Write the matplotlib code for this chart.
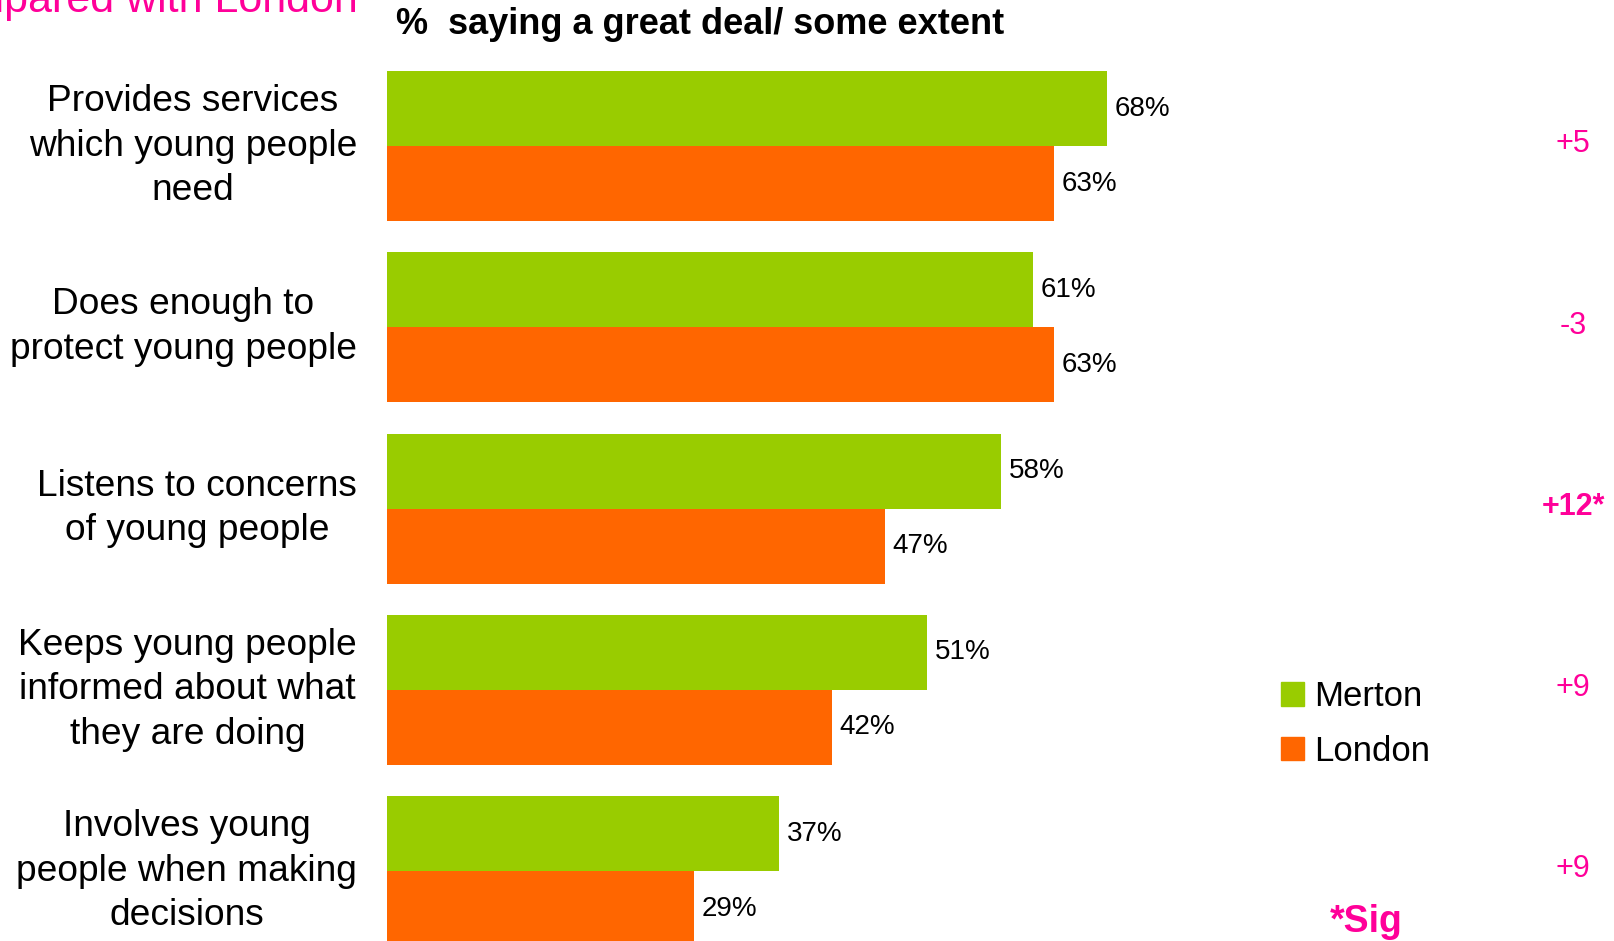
import numpy as np
import matplotlib.pyplot as plt
from matplotlib.transforms import blended_transform_factory
from matplotlib.patches import Patch

plt.rcParams['font.family'] = ['Liberation Sans', 'DejaVu Sans']

categories = ['Provides services\nwhich young people\nneed',
              'Does enough to\nprotect young people',
              'Listens to concerns\nof young people',
              'Keeps young people\ninformed about what\nthey are doing',
              'Involves young\npeople when making\ndecisions']
merton = [68, 61, 58, 51, 37]
london = [63, 63, 47, 42, 29]
diffs = ['+5', '-3', '+12*', '+9', '+9']
diff_bold = [False, False, True, False, False]

green = '#99CC00'
orange = '#FF6600'
pink = '#FF0099'

W, H = 1615, 941
fig = plt.figure(figsize=(W / 100, H / 100), dpi=100)
ax = fig.add_axes([387 / W, 0, 1059 / W, 1])

y = np.arange(len(categories))
h = 0.414
ax.barh(y - h / 2, merton, height=h, color=green, label='Merton')
ax.barh(y + h / 2, london, height=h, color=orange, label='London')

for yi, v in zip(y - h / 2, merton):
    ax.text(v + 0.75, yi, f'{v}%', va='center', ha='left', fontsize=20)
for yi, v in zip(y + h / 2, london):
    ax.text(v + 0.75, yi, f'{v}%', va='center', ha='left', fontsize=20)

ax.set_xlim(0, 100)
ax.set_ylim(4.386, -0.806)
ax.axis('off')

tr = blended_transform_factory(fig.transFigure, ax.transData)
for yi, lab in zip(y, categories):
    ax.text(357 / W, yi, lab, transform=tr, ha='right', va='center',
            multialignment='center', fontsize=26.7, linespacing=1.36)

for yi, d, b in zip(y, diffs, diff_bold):
    ax.text(1573 / W, yi - 0.01, d, transform=tr, ha='center', va='center',
            fontsize=22, color=pink, fontweight='bold' if b else 'normal')

# titles (cut off at the top in the original)
fig.text(358 / W, 1 - 12 / H, 'Merton compared with London', ha='right',
         va='baseline', fontsize=31, color=pink)
fig.text(396 / W, 1 - 25 / H, '%  saying a great deal/ some extent',
         ha='left', va='center', fontsize=26, fontweight='bold')

fig.legend(handles=[Patch(color=green, label='Merton'),
                    Patch(color=orange, label='London')],
           loc='upper left', bbox_to_anchor=(1281 / W, 1 - 680 / H),
           frameon=False, fontsize=25, handlelength=0.66, handleheight=0.66,
           handletextpad=0.3, labelspacing=0.62, borderpad=0, borderaxespad=0)

fig.text(1330 / W, 1 - 922 / H, '*Sig', ha='left', va='center',
         fontsize=27, fontweight='bold', color=pink)

fig.savefig('out.png', dpi=100)
